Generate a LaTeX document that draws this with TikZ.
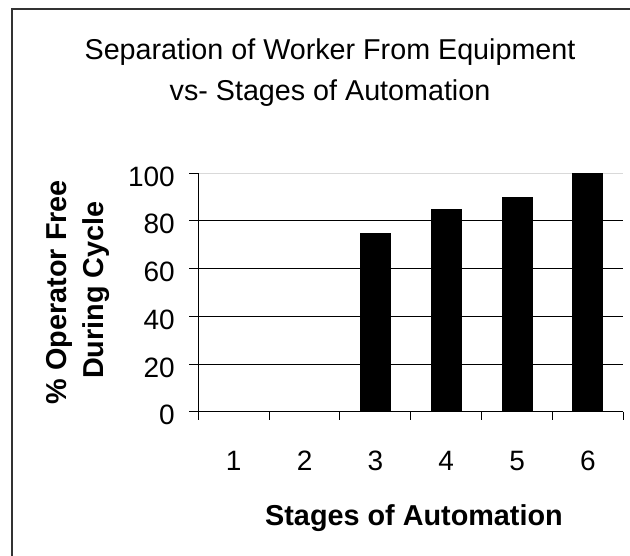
\documentclass[tikz,border=0pt]{standalone}
\usepackage{fontspec}
\setmainfont{Liberation Sans}
\begin{document}
\begin{tikzpicture}[x=1pt,y=-1pt,
  lbl/.style={font=\fontsize{28}{30}\selectfont, inner sep=0pt},
  ttl/.style={font=\fontsize{28.7}{32}\selectfont, inner sep=0pt},
  axttl/.style={font=\fontsize{28.8}{32}\selectfont\bfseries, inner sep=0pt},
  gridline/.style={line width=1pt, black},
  barbox/.style={fill=black},
  frameline/.style={line width=2pt, black!80}]
\def\xa{198.3}\def\cw{70.83}\def\yz{411.7}\def\ys{2.385}
\useasboundingbox (0,0) rectangle (630,555);
\fill[white] (0,0) rectangle (630,555);
% outer frame (cut at right and bottom)
\draw[frameline] (12,560) -- (12,9) -- (640,9);
% title
\node[ttl, anchor=base] (title1) at (330,59) {Separation of Worker From Equipment};
\node[ttl, anchor=base] (title2) at (330,100) {vs- Stages of Automation};
% gridlines
\draw[line width=1pt, black!15] (\xa,173.2) -- (623.3,173.2);
\foreach \v in {20,40,60,80}
  \draw[gridline] (\xa,{\yz-\v*\ys}) -- (623.3,{\yz-\v*\ys});
% y ticks
\foreach \v in {0,20,...,100}
  \draw[gridline] (189,{\yz-\v*\ys}) -- (\xa,{\yz-\v*\ys});
% bars
\foreach \i/\v in {3/75,4/85,5/90,6/100}
  \fill[barbox] ({\xa+(\i-0.5)*\cw-15.5},{\yz-\v*\ys}) rectangle ({\xa+(\i-0.5)*\cw+15.5},\yz);
% axes
\draw[gridline] (\xa,173.2) -- (\xa,\yz);
\draw[gridline] (189,\yz) -- (623.3,\yz);
\foreach \i in {0,...,6}
  \draw[gridline] ({\xa+\i*\cw},\yz) -- ({\xa+\i*\cw},420);
% tick labels
\foreach \v in {0,20,...,100}
  \node[lbl, anchor=base east] (yl\v) at (175,{\yz-\v*\ys+13}) {\v};
\foreach \i in {1,...,6}
  \node[lbl, anchor=base] (xl\i) at ({\xa+(\i-0.5)*\cw},470) {\i};
% axis titles
\node[axttl, anchor=base] (xtitle) at (414,525) {Stages of Automation};
\node[axttl, anchor=base, rotate=90] (ytitle1) at (66,292) {\% Operator Free};
\node[axttl, anchor=base, rotate=90] (ytitle2) at (103,290) {During Cycle};
\end{tikzpicture}
\end{document}
